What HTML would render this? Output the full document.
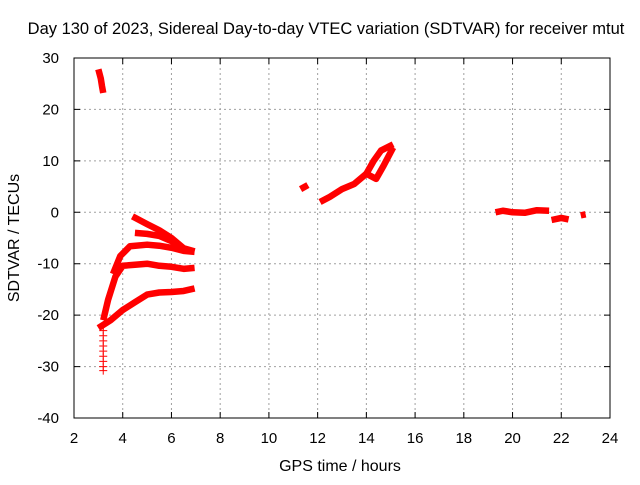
<!DOCTYPE html>
<html><head><meta charset="utf-8"><style>
body{margin:0;background:#fff}
svg text{font-family:"Liberation Sans",sans-serif;font-size:15px;fill:#000}
</style></head><body>
<svg id="chart" width="640" height="480" xmlns="http://www.w3.org/2000/svg">
<text x="326" y="34" text-anchor="middle" style="font-size:16.5px">Day 130 of 2023, Sidereal Day-to-day VTEC variation (SDTVAR) for receiver mtut</text>
<text x="340" y="471" text-anchor="middle" style="font-size:16px">GPS time / hours</text>
<text transform="translate(19,238) rotate(-90)" text-anchor="middle" style="font-size:16px">SDTVAR / TECUs</text>
<g id="grid"></g><g id="ticks"></g><g id="series"></g>
<rect x="74" y="58" width="536" height="360" fill="none" stroke="#000" stroke-width="1"/>
</svg>
<script>
const xTicks=[2,4,6,8,10,12,14,16,18,20,22,24];
const yTicks=[30,20,10,0,-10,-20,-30,-40];
const seriesTop=[[3.0,27.8],[3.1,26],[3.15,24.5],[3.2,23.2]];
const seriesStem=[[3.2,-22],[3.2,-23],[3.2,-24],[3.2,-25],[3.2,-26],[3.2,-27],[3.2,-28],[3.2,-29],[3.2,-30],[3.2,-30.8]];
const seriesC1=[[3.0,-22.5],[3.5,-21],[4,-19],[4.5,-17.5],[5,-16],[5.5,-15.6],[6,-15.5],[6.5,-15.3],[6.95,-14.8]];
const seriesC2=[[3.2,-21],[3.4,-17],[3.7,-12.5],[4,-10.4],[4.5,-10.2],[5,-10],[5.5,-10.4],[6,-10.6],[6.5,-11],[6.95,-10.8]];
const seriesC3=[[3.6,-12],[3.9,-8.5],[4.3,-6.6],[5,-6.3],[5.5,-6.5],[6,-6.9],[6.5,-7.5],[6.95,-7.7]];
const seriesC4=[[4.4,-0.8],[5,-2.3],[5.5,-3.5],[6,-5],[6.5,-7],[6.95,-7.6]];
const seriesC5=[[4.5,-4],[5,-4.2],[5.5,-4.6],[6,-5.6],[6.4,-7]];
const seriesM1=[[11.3,4.5],[11.6,5.3]];
const seriesM2=[[12.1,2.0],[12.5,3.0],[13,4.5],[13.5,5.5],[14,7.5],[14.4,6.5],[14.7,9],[15.1,12.6]];
const seriesM3=[[14,7.5],[14.3,10],[14.6,12],[15.1,13.2]];
const seriesR1=[[19.3,0],[19.6,0.3],[20,0],[20.5,-0.1],[21,0.4],[21.5,0.3]];
const seriesR2=[[21.6,-1.5],[22,-1.1],[22.3,-1.4]];
const seriesR3=[[22.8,-0.6],[23,-0.4]];
const NS="http://www.w3.org/2000/svg";
const X=v=>74+(v-2)*536/22, Y=v=>58+(30-v)*360/70;
function mk(t,a,p){const e=document.createElementNS(NS,t);for(const k in a)e.setAttribute(k,a[k]);p.appendChild(e);return e;}
const g=document.getElementById('grid'),tk=document.getElementById('ticks'),s=document.getElementById('series');
xTicks.forEach(v=>{
 if(v>2&&v<24){const l=mk('line',{x1:X(v),x2:X(v),y1:58,y2:418,stroke:'#a0a0a0','stroke-dasharray':'2,3'},g);
 }
 const t=mk('path',{d:`M${X(v)},418v-6M${X(v)},58v6`,stroke:'#000'},tk);
 
 const lb=mk('text',{x:X(v),y:443,'text-anchor':'middle'},tk);lb.textContent=v;
 
});
yTicks.forEach(v=>{
 if(v<30&&v>-40){const l=mk('line',{x1:74,x2:610,y1:Y(v),y2:Y(v),stroke:'#a0a0a0','stroke-dasharray':'2,3'},g);
 }
 const t=mk('path',{d:`M74,${Y(v)}h6M610,${Y(v)}h-6`,stroke:'#000'},tk);
 
 const lb=mk('text',{x:59,y:Y(v)+5,'text-anchor':'end'},tk);lb.textContent=v;
 
});
[seriesTop,seriesC1,seriesC2,seriesC3,seriesC4,seriesC5,seriesM1,seriesM2,seriesM3,seriesR1,seriesR2,seriesR3].forEach(d=>{
 const p=mk('polyline',{points:d.map(q=>X(q[0])+','+Y(q[1])).join(' '),fill:'none',stroke:'#f00','stroke-width':6.5,'stroke-linejoin':'round'},s);
 
});
seriesStem.forEach(q=>{
 const m=mk('path',{d:`M${X(q[0])-4},${Y(q[1])}h8M${X(q[0])},${Y(q[1])-4}v8`,stroke:'#f00','stroke-width':1},s);
 
});
</script>
</body></html>
